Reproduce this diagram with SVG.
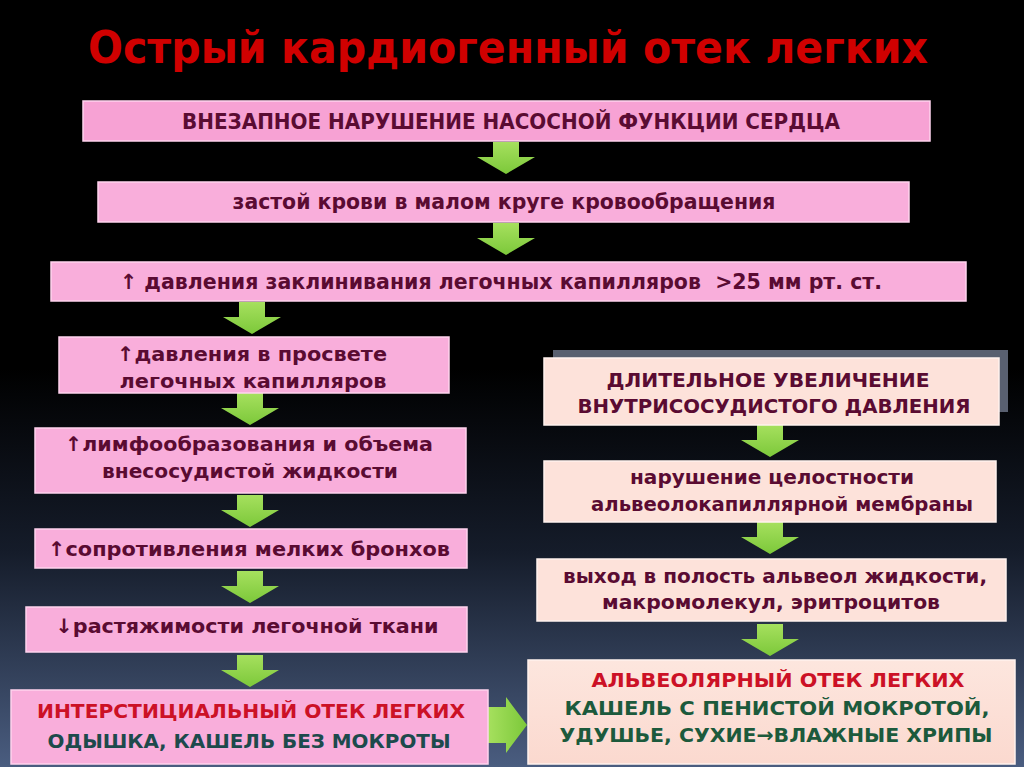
<svg xmlns="http://www.w3.org/2000/svg" width="1024" height="767" viewBox="0 0 1024 767">
  <defs>
    <linearGradient id="bg" x1="0" y1="0" x2="0" y2="1">
      <stop offset="0" stop-color="#000000"/>
      <stop offset="0.48" stop-color="#000000"/>
      <stop offset="0.72" stop-color="#151c2a"/>
      <stop offset="1" stop-color="#4a5d80"/>
    </linearGradient>
    <linearGradient id="grn" x1="0" y1="0" x2="0" y2="1">
      <stop offset="0" stop-color="#a6e05e"/>
      <stop offset="1" stop-color="#7cc83a"/>
    </linearGradient>
    <linearGradient id="grnh" x1="0" y1="0" x2="1" y2="0">
      <stop offset="0" stop-color="#a6e05e"/>
      <stop offset="1" stop-color="#7cc83a"/>
    </linearGradient>
    <linearGradient id="peach" x1="0" y1="0" x2="0" y2="1">
      <stop offset="0" stop-color="#fde6de"/>
      <stop offset="1" stop-color="#fbd9cf"/>
    </linearGradient>
    <path id="arr" d="M-13,0 H13 V15 H29 L0,32 L-29,15 H-13 Z"/>
    <style>
      .pink{fill:#f9aedb;stroke:#ffd3ee;stroke-width:1.5}
      .pink2{fill:#f7a2d4;stroke:#ffd3ee;stroke-width:1.5}
      .peach{fill:#fde2da;stroke:#fff2ee;stroke-width:1.5}
      .t{font-family:"DejaVu Sans","Noto Sans",sans-serif;font-weight:bold;font-size:20px;fill:#5a0b32;text-anchor:middle}
      .tc{font-family:"DejaVu Sans Condensed","DejaVu Sans","Liberation Sans Narrow",sans-serif;font-weight:bold;font-size:21px;fill:#5a0b32;text-anchor:middle}
      .red{fill:#cc1126}
      .teal{fill:#1d4a4c}
      .dgreen{fill:#1c5a3c}
      .title{font-family:"DejaVu Sans Condensed","DejaVu Sans",sans-serif;font-weight:bold;font-size:45px;fill:#d00000;text-anchor:middle}
    </style>
  </defs>

  <rect x="0" y="0" width="1024" height="767" fill="url(#bg)"/>

  <text class="title" x="508" y="63" textLength="840" lengthAdjust="spacingAndGlyphs">Острый кардиогенный отек легких</text>

  <g id="connectors" fill="url(#grn)">
    <use href="#arr" x="506" y="142"/>
    <use href="#arr" x="506" y="223"/>
    <use href="#arr" x="252" y="302"/>
    <use href="#arr" x="250" y="393"/>
    <use href="#arr" x="250" y="495"/>
    <use href="#arr" x="250" y="571"/>
    <use href="#arr" x="250" y="655"/>
    <use href="#arr" x="770" y="425"/>
    <use href="#arr" x="770" y="522"/>
    <use href="#arr" x="770" y="624"/>
    <path d="M488,707 H506 V697 L527,725 L506,753 V743 H488 Z" fill="url(#grnh)"/>
  </g>

  <g id="n1">
    <rect class="pink2" x="83" y="101" width="847" height="40"/>
    <text class="tc" x="511" y="129" textLength="658" lengthAdjust="spacingAndGlyphs">ВНЕЗАПНОЕ НАРУШЕНИЕ НАСОСНОЙ ФУНКЦИИ СЕРДЦА</text>
  </g>
  <g id="n2">
    <rect class="pink" x="98" y="182" width="811" height="40"/>
    <text class="tc" x="504" y="209" textLength="543" lengthAdjust="spacingAndGlyphs">застой крови в малом круге кровообращения</text>
  </g>
  <g id="n3">
    <rect class="pink" x="51" y="262" width="915" height="39"/>
    <text class="tc" x="501" y="289" textLength="762" lengthAdjust="spacingAndGlyphs" xml:space="preserve">↑ давления заклинивания легочных капилляров  &gt;25 мм рт. ст.</text>
  </g>

  <g id="n4">
    <rect class="pink" x="59" y="337" width="390" height="56"/>
    <text class="t" x="252" y="361" textLength="270" lengthAdjust="spacingAndGlyphs">↑давления в просвете</text>
    <text class="t" x="253" y="388" textLength="267" lengthAdjust="spacingAndGlyphs">легочных капилляров</text>
  </g>
  <g id="n5">
    <rect class="pink" x="35" y="428" width="431" height="65"/>
    <text class="t" x="249" y="451" textLength="368" lengthAdjust="spacingAndGlyphs">↑лимфообразования и объема</text>
    <text class="t" x="250" y="478" textLength="296" lengthAdjust="spacingAndGlyphs">внесосудистой жидкости</text>
  </g>
  <g id="n6">
    <rect class="pink" x="35" y="529" width="432" height="39"/>
    <text class="t" x="249" y="556" textLength="402" lengthAdjust="spacingAndGlyphs">↑сопротивления мелких бронхов</text>
  </g>
  <g id="n7">
    <rect class="pink" x="26" y="607" width="441" height="45"/>
    <text class="t" x="247" y="633" textLength="383" lengthAdjust="spacingAndGlyphs">↓растяжимости легочной ткани</text>
  </g>
  <g id="n8">
    <rect class="pink" x="11" y="690" width="477" height="74"/>
    <text class="t red" x="251" y="718" textLength="428" lengthAdjust="spacingAndGlyphs">ИНТЕРСТИЦИАЛЬНЫЙ ОТЕК ЛЕГКИХ</text>
    <text class="t teal" x="249" y="748" textLength="403" lengthAdjust="spacingAndGlyphs">ОДЫШКА, КАШЕЛЬ БЕЗ МОКРОТЫ</text>
  </g>

  <g id="r1">
    <rect x="553" y="350" width="455" height="62" fill="#596070"/>
    <rect class="peach" x="544" y="358" width="455" height="67"/>
    <text class="t" x="768" y="387" textLength="323" lengthAdjust="spacingAndGlyphs">ДЛИТЕЛЬНОЕ УВЕЛИЧЕНИЕ</text>
    <text class="t" x="774" y="413" textLength="393" lengthAdjust="spacingAndGlyphs">ВНУТРИСОСУДИСТОГО ДАВЛЕНИЯ</text>
  </g>
  <g id="r2">
    <rect class="peach" x="544" y="461" width="452" height="61"/>
    <text class="t" x="772" y="484" textLength="284" lengthAdjust="spacingAndGlyphs">нарушение целостности</text>
    <text class="t" x="782" y="511" textLength="382" lengthAdjust="spacingAndGlyphs">альвеолокапиллярной мембраны</text>
  </g>
  <g id="r3">
    <rect class="peach" x="537" y="559" width="469" height="62"/>
    <text class="t" x="775" y="583" textLength="424" lengthAdjust="spacingAndGlyphs">выход в полость альвеол жидкости,</text>
    <text class="t" x="771" y="609" textLength="338" lengthAdjust="spacingAndGlyphs">макромолекул, эритроцитов</text>
  </g>
  <g id="r4">
    <rect x="528" y="660" width="487" height="104" fill="url(#peach)" stroke="#fff2ee" stroke-width="1.5"/>
    <text class="t red" x="778" y="687" textLength="373" lengthAdjust="spacingAndGlyphs">АЛЬВЕОЛЯРНЫЙ ОТЕК ЛЕГКИХ</text>
    <text class="t dgreen" x="777" y="715" textLength="425" lengthAdjust="spacingAndGlyphs">КАШЕЛЬ С ПЕНИСТОЙ МОКРОТОЙ,</text>
    <text class="t dgreen" x="776" y="742" textLength="433" lengthAdjust="spacingAndGlyphs">УДУШЬЕ, СУХИЕ→ВЛАЖНЫЕ ХРИПЫ</text>
  </g>
</svg>
